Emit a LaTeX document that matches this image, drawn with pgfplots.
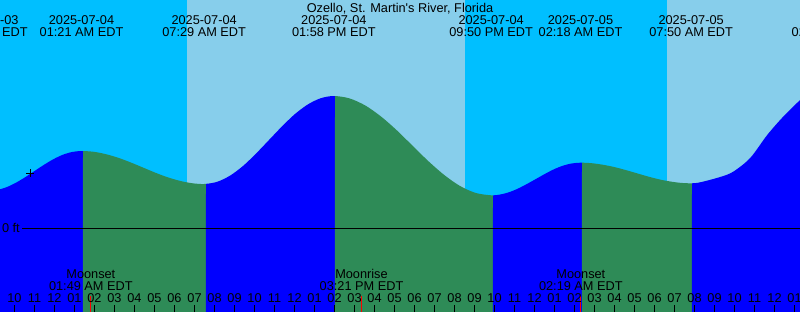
\documentclass[border=0pt]{standalone}
\usepackage{fontspec}
\setmainfont{Liberation Sans}
\usepackage{pgfplots}
\usepackage{pgfplotstable}
\pgfplotsset{compat=1.18}
\usepgfplotslibrary{fillbetween}
\definecolor{nightsky}{HTML}{00BFFF}
\definecolor{daysky}{HTML}{87CEEB}
\definecolor{rising}{HTML}{0000FF}
\definecolor{falling}{HTML}{2E8B57}

% hours since 2025-07-04 00:00 EDT, height in ft
\pgfplotstableread{
h Y
-3.34 0.925
-2.87 0.95
-2.40 1.02
-1.935 1.13
-1.465 1.27
-0.995 1.425
-0.525 1.58
-0.055 1.72
0.41 1.83
0.88 1.90
1.35 1.925
1.965 1.905
2.575 1.845
3.19 1.755
3.805 1.64
4.42 1.5125
5.03 1.385
5.645 1.27
6.26 1.18
6.87 1.12
7.485 1.10
8.135 1.155
8.78 1.31
9.43 1.5525
10.075 1.86
10.725 2.20
11.375 2.54
12.02 2.8475
12.67 3.09
13.315 3.245
13.965 3.30
14.75 3.24
15.54 3.0625
16.325 2.7875
17.115 2.4425
17.90 2.0575
18.685 1.675
19.475 1.33
20.26 1.055
21.05 0.8775
21.835 0.8175
22.28 0.8375
22.73 0.895
23.175 0.985
23.62 1.10
24.07 1.225
24.515 1.35
24.96 1.465
25.405 1.555
25.855 1.6125
26.30 1.6325
26.855 1.62
27.405 1.5825
27.96 1.5275
28.515 1.455
29.07 1.375
29.62 1.295
30.175 1.2225
30.73 1.1675
31.28 1.13
31.835 1.1175
32.285 1.1425
33.285 1.275
33.935 1.4075
34.785 1.75
35.635 2.325
36.435 2.7825
37.285 3.20
38.035 3.50
}\tidedata

\newcommand{\tidelabel}[3]{%
  \node[anchor=base] at (axis cs:#1,5.1) {#2};
  \node[anchor=base] at (axis cs:#1,4.8) {#3};}
\newcommand{\moonlabel}[3]{%
  \node[anchor=base] at (axis cs:#1,-1.25) {#2};
  \node[anchor=base] at (axis cs:#1,-1.5625) {#3};}

\begin{document}
\begin{tikzpicture}[font=\fontsize{12.8}{15}\selectfont]
\begin{axis}[at={(0,0)}, anchor=south west, scale only axis,
  width=800bp, height=312bp,
  set layers, axis on top,
  xmin=-2.725, xmax=37.275, ymin=-2.1, ymax=5.7,
  axis x line*=bottom, axis y line=none, axis line style={draw=none},
  xtick={-2,-1,...,37},
  xticklabels={10,11,12,01,02,03,04,05,06,07,08,09,10,11,12,01,02,03,04,05,06,07,08,09,10,11,12,01,02,03,04,05,06,07,08,09,10,11,12,01},
  extra x ticks={0,24}, extra x tick labels={},
  extra x tick style={major tick length=7bp, tick style={black, line width=3bp}},
  major tick length=7bp, tick align=inside,
  xtick style={black, line width=1bp},
  xticklabel style={anchor=base, yshift=10bp, font=\fontsize{12.8}{15}\selectfont, text=black},
  clip=true,
]
% day / night background
\begin{pgfonlayer}{axis background}
\fill[nightsky] (axis cs:-4,-3) rectangle (axis cs:6.64,7);
\fill[daysky] (axis cs:6.64,-3) rectangle (axis cs:20.525,7);
\fill[nightsky] (axis cs:20.525,-3) rectangle (axis cs:30.61,7);
\fill[daysky] (axis cs:30.61,-3) rectangle (axis cs:40,7);
\end{pgfonlayer}

\addplot[name path=tide, draw=none, smooth] table[x=h, y=Y] {\tidedata};
\path[name path=bot] (axis cs:-4,-2.6) -- (axis cs:40,-2.6);

\addplot[fill=rising, draw=none] fill between[of=tide and bot, soft clip={domain=-4:1.425}];
\addplot[fill=falling, draw=none] fill between[of=tide and bot, soft clip={domain=1.425:7.575}];
\addplot[fill=rising, draw=none] fill between[of=tide and bot, soft clip={domain=7.575:14.025}];
\addplot[fill=falling, draw=none] fill between[of=tide and bot, soft clip={domain=14.025:21.925}];
\addplot[fill=rising, draw=none] fill between[of=tide and bot, soft clip={domain=21.925:26.375}];
\addplot[fill=falling, draw=none] fill between[of=tide and bot, soft clip={domain=26.375:31.875}];
\addplot[fill=rising, draw=none] fill between[of=tide and bot, soft clip={domain=31.875:40}];

% zero line
\addplot[black, line width=1bp] coordinates {(-1.625,0) (40,0)};
\node[anchor=base east, inner sep=0pt] at (axis cs:-1.725,-0.1) {0 ft};

% current-time mark
\addplot[only marks, mark=+, mark size=4bp, black, line width=1bp] coordinates {(-1.225,1.3675)};

% moon event ticks
\addplot[red, line width=1bp] coordinates {(1.817,-2.3) (1.817,-1.7)};
\addplot[red, line width=1bp] coordinates {(15.35,-2.3) (15.35,-1.7)};
\addplot[red, line width=1bp] coordinates {(26.317,-2.3) (26.317,-1.7)};

% title and tide event labels
\node[anchor=base] at (axis cs:17.275,5.4) {Ozello, St. Martin\textquotesingle s River, Florida};
\tidelabel{-3.43}{2025-07-03}{08:39 PM EDT}
\tidelabel{1.35}{2025-07-04}{01:21 AM EDT}
\tidelabel{7.483}{2025-07-04}{07:29 AM EDT}
\tidelabel{13.967}{2025-07-04}{01:58 PM EDT}
\tidelabel{21.833}{2025-07-04}{09:50 PM EDT}
\tidelabel{26.3}{2025-07-05}{02:18 AM EDT}
\tidelabel{31.833}{2025-07-05}{07:50 AM EDT}
\tidelabel{38.95}{2025-07-05}{02:52 PM EDT}

% moon labels
\moonlabel{1.817}{Moonset}{01:49 AM EDT}
\moonlabel{15.35}{Moonrise}{03:21 PM EDT}
\moonlabel{26.317}{Moonset}{02:19 AM EDT}
\end{axis}
\pgfresetboundingbox
\useasboundingbox (0,0) rectangle (800bp,312bp);
\end{tikzpicture}
\end{document}
